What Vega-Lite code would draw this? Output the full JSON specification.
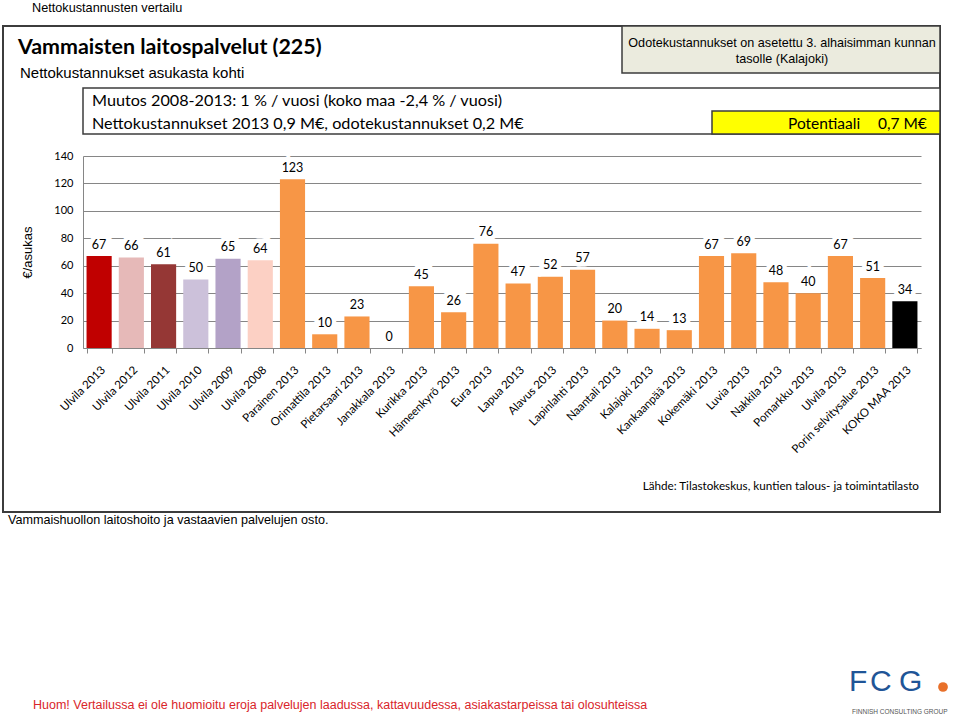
{
  "$schema": "https://vega.github.io/schema/vega-lite/v6.json",
  "width": 838,
  "height": 192,
  "autosize": {"type": "none"},
  "padding": {"left": 83, "top": 156, "right": 39, "bottom": 372},
  "background": "white",
  "config": {"view": {"stroke": null}, "font": "Lato"},
  "datasets": {
    "kustannukset": [
      {"kunta": "Ulvila 2013", "arvo": 67, "sarja": "Ulvila 2013"},
      {"kunta": "Ulvila 2012", "arvo": 66, "sarja": "Ulvila 2012"},
      {"kunta": "Ulvila 2011", "arvo": 61, "sarja": "Ulvila 2011"},
      {"kunta": "Ulvila 2010", "arvo": 50, "sarja": "Ulvila 2010"},
      {"kunta": "Ulvila 2009", "arvo": 65, "sarja": "Ulvila 2009"},
      {"kunta": "Ulvila 2008", "arvo": 64, "sarja": "Ulvila 2008"},
      {"kunta": "Parainen 2013", "arvo": 123, "sarja": "Vertailukunnat"},
      {"kunta": "Orimattila 2013", "arvo": 10, "sarja": "Vertailukunnat"},
      {"kunta": "Pietarsaari 2013", "arvo": 23, "sarja": "Vertailukunnat"},
      {"kunta": "Janakkala 2013", "arvo": 0, "sarja": "Vertailukunnat"},
      {"kunta": "Kurikka 2013", "arvo": 45, "sarja": "Vertailukunnat"},
      {"kunta": "Hämeenkyrö 2013", "arvo": 26, "sarja": "Vertailukunnat"},
      {"kunta": "Eura 2013", "arvo": 76, "sarja": "Vertailukunnat"},
      {"kunta": "Lapua 2013", "arvo": 47, "sarja": "Vertailukunnat"},
      {"kunta": "Alavus 2013", "arvo": 52, "sarja": "Vertailukunnat"},
      {"kunta": "Lapinlahti 2013", "arvo": 57, "sarja": "Vertailukunnat"},
      {"kunta": "Naantali 2013", "arvo": 20, "sarja": "Vertailukunnat"},
      {"kunta": "Kalajoki 2013", "arvo": 14, "sarja": "Vertailukunnat"},
      {"kunta": "Kankaanpää 2013", "arvo": 13, "sarja": "Vertailukunnat"},
      {"kunta": "Kokemäki 2013", "arvo": 67, "sarja": "Vertailukunnat"},
      {"kunta": "Luvia 2013", "arvo": 69, "sarja": "Vertailukunnat"},
      {"kunta": "Nakkila 2013", "arvo": 48, "sarja": "Vertailukunnat"},
      {"kunta": "Pomarkku 2013", "arvo": 40, "sarja": "Vertailukunnat"},
      {"kunta": "Ulvila 2013\u200b", "arvo": 67, "sarja": "Vertailukunnat"},
      {"kunta": "Porin selvitysalue 2013", "arvo": 51, "sarja": "Vertailukunnat"},
      {"kunta": "KOKO MAA 2013", "arvo": 34, "sarja": "KOKO MAA"}
    ]
  },
  "data": {"name": "kustannukset"},
  "layer": [
    {"data": {"values": [{}]}, "mark": {"type": "rect", "x": -80, "y": -130, "x2": 857, "y2": 356, "fill": "white", "fillOpacity": 0, "stroke": "#3c3c3c", "strokeWidth": 2}, "encoding": {}},
    {"data": {"values": [{}]}, "mark": {"type": "rect", "x": 539, "y": -130, "x2": 857, "y2": -83, "fill": "#ebebde", "stroke": "#3c3c3c", "strokeWidth": 1.5}, "encoding": {}},
    {"data": {"values": [{}]}, "mark": {"type": "text", "x": 699, "y": -109, "align": "center", "baseline": "alphabetic", "lineHeight": 16, "font": "Liberation Sans", "fontSize": 12.6, "color": "#000", "text": ["Odotekustannukset on asetettu 3. alhaisimman kunnan", "tasolle (Kalajoki)"]}, "encoding": {}},
    {"data": {"values": [{}]}, "mark": {"type": "rect", "x": 0, "y": -68, "x2": 857, "y2": -22, "fill": "white", "stroke": "#3c3c3c", "strokeWidth": 1.5}, "encoding": {}},
    {"data": {"values": [{}]}, "mark": {"type": "rule", "x": 0, "y": -45, "x2": 857, "y2": -45, "stroke": "#3c3c3c", "strokeWidth": 1.5}, "encoding": {}},
    {"data": {"values": [{}]}, "mark": {"type": "rect", "x": 629, "y": -45, "x2": 857, "y2": -22, "fill": "#ffff00", "stroke": "#3c3c3c", "strokeWidth": 1.5}, "encoding": {}},
    {"data": {"values": [{}]}, "mark": {"type": "text", "x": 9, "y": -50, "align": "left", "baseline": "alphabetic", "font": "Lato", "fontSize": 16.2, "color": "#000", "text": "Muutos 2008-2013: 1 % / vuosi (koko maa -2,4 % / vuosi)"}, "encoding": {}},
    {"data": {"values": [{}]}, "mark": {"type": "text", "x": 9, "y": -27, "align": "left", "baseline": "alphabetic", "font": "Lato", "fontSize": 16.2, "color": "#000", "text": "Nettokustannukset 2013 0,9 M€, odotekustannukset 0,2 M€"}, "encoding": {}},
    {"data": {"values": [{}]}, "mark": {"type": "text", "x": 705, "y": -27, "align": "left", "baseline": "alphabetic", "font": "Lato", "fontSize": 15.5, "color": "#000", "text": "Potentiaali"}, "encoding": {}},
    {"data": {"values": [{}]}, "mark": {"type": "text", "x": 795, "y": -27, "align": "left", "baseline": "alphabetic", "font": "Lato", "fontSize": 15.5, "color": "#000", "text": "0,7 M€"}, "encoding": {}},
    {"data": {"values": [{}]}, "mark": {"type": "text", "x": -51, "y": -144, "align": "left", "baseline": "alphabetic", "font": "Liberation Sans", "fontSize": 12.7, "color": "#000", "text": "Nettokustannusten vertailu"}, "encoding": {}},
    {"data": {"values": [{}]}, "mark": {"type": "text", "x": -65, "y": -102, "align": "left", "baseline": "alphabetic", "font": "Lato", "fontSize": 21.4, "fontWeight": "bold", "color": "#000", "text": "Vammaisten laitospalvelut (225)"}, "encoding": {}},
    {"data": {"values": [{}]}, "mark": {"type": "text", "x": -63, "y": -78, "align": "left", "baseline": "alphabetic", "font": "Liberation Sans", "fontSize": 15, "color": "#000", "text": "Nettokustannukset asukasta kohti"}, "encoding": {}},
    {"data": {"values": [{}]}, "mark": {"type": "text", "x": 836, "y": 334, "align": "right", "baseline": "alphabetic", "font": "Lato", "fontSize": 11.7, "color": "#000", "text": "Lähde: Tilastokeskus, kuntien talous- ja toimintatilasto"}, "encoding": {}},
    {"data": {"values": [{}]}, "mark": {"type": "text", "x": -75, "y": 368, "align": "left", "baseline": "alphabetic", "font": "Liberation Sans", "fontSize": 12.6, "color": "#000", "text": "Vammaishuollon laitoshoito ja vastaavien palvelujen osto."}, "encoding": {}},
    {"data": {"values": [{}]}, "mark": {"type": "text", "x": -50, "y": 553, "align": "left", "baseline": "alphabetic", "font": "Liberation Sans", "fontSize": 12.5, "color": "#d9252a", "text": "Huom! Vertailussa ei ole huomioitu eroja palvelujen laadussa, kattavuudessa, asiakastarpeissa tai olosuhteissa"}, "encoding": {}},
    {"data": {"values": [{}]}, "mark": {"type": "text", "x": 766, "y": 535, "align": "left", "baseline": "alphabetic", "font": "Liberation Sans", "fontSize": 30, "color": "#1f5597", "text": "F"}, "encoding": {}},
    {"data": {"values": [{}]}, "mark": {"type": "text", "x": 787, "y": 535, "align": "left", "baseline": "alphabetic", "font": "Liberation Sans", "fontSize": 30, "color": "#1f5597", "text": "C"}, "encoding": {}},
    {"data": {"values": [{}]}, "mark": {"type": "text", "x": 816, "y": 535, "align": "left", "baseline": "alphabetic", "font": "Liberation Sans", "fontSize": 30, "color": "#1f5597", "text": "G"}, "encoding": {}},
    {"data": {"values": [{}]}, "mark": {"type": "circle", "x": 860, "y": 531, "size": 95, "color": "#e8702a", "opacity": 1}, "encoding": {}},
    {"data": {"values": [{}]}, "mark": {"type": "text", "x": 769, "y": 558, "align": "left", "baseline": "alphabetic", "font": "Liberation Sans", "fontSize": 6.5, "color": "#555555", "text": "FINNISH CONSULTING GROUP"}, "encoding": {}},
    {
      "encoding": {
        "x": {
          "field": "kunta", "type": "nominal", "sort": null,
          "scale": {"paddingInner": 0.22, "paddingOuter": 0.11},
          "axis": {"title": null, "labelAngle": -45, "labelAlign": "right", "labelBaseline": "top", "labelFont": "Lato", "labelFontSize": 11.5, "labelColor": "#000", "labelPadding": 11, "labelLimit": 250, "labelOverlap": false, "domainColor": "#868686", "tickColor": "#868686", "tickBand": "extent", "tickSize": 5, "grid": false}
        },
        "y": {
          "field": "arvo", "type": "quantitative",
          "scale": {"domain": [0, 140]},
          "axis": {"title": "€/asukas", "values": [0, 20, 40, 60, 80, 100, 120, 140], "labelOverlap": false, "titleFont": "Liberation Sans", "titleFontSize": 13, "titleFontWeight": "normal", "titleColor": "#000", "titleX": -56, "titleY": 96, "titleAngle": 270, "titleAlign": "center", "titleBaseline": "middle", "labelFont": "Lato", "labelFontSize": 11, "labelColor": "#000", "labelPadding": 10, "ticks": false, "tickSize": 0, "domainColor": "#868686", "grid": true, "gridColor": "#868686", "gridOpacity": 1, "gridWidth": 1}
        }
      },
      "layer": [
        {
          "mark": {"type": "bar"},
          "encoding": {
            "color": {
              "field": "sarja", "type": "nominal",
              "scale": {
                "domain": ["Ulvila 2013", "Ulvila 2012", "Ulvila 2011", "Ulvila 2010", "Ulvila 2009", "Ulvila 2008", "Vertailukunnat", "KOKO MAA"],
                "range": ["#c00000", "#e6b9b8", "#953735", "#ccc1da", "#b3a2c7", "#fcd0c4", "#f79646", "#000000"]
              },
              "legend": null
            }
          }
        },
        {
          "mark": {"type": "text", "dy": -11.5, "font": "Lato", "fontSize": 12.5, "baseline": "middle", "align": "center", "fill": "white", "stroke": "white", "strokeWidth": 9},
          "encoding": {"text": {"field": "arvo", "type": "quantitative"}}
        },
        {
          "mark": {"type": "text", "dy": -11.5, "font": "Lato", "fontSize": 12.5, "baseline": "middle", "align": "center", "color": "#000"},
          "encoding": {"text": {"field": "arvo", "type": "quantitative"}}
        }
      ]
    }
  ]
}
